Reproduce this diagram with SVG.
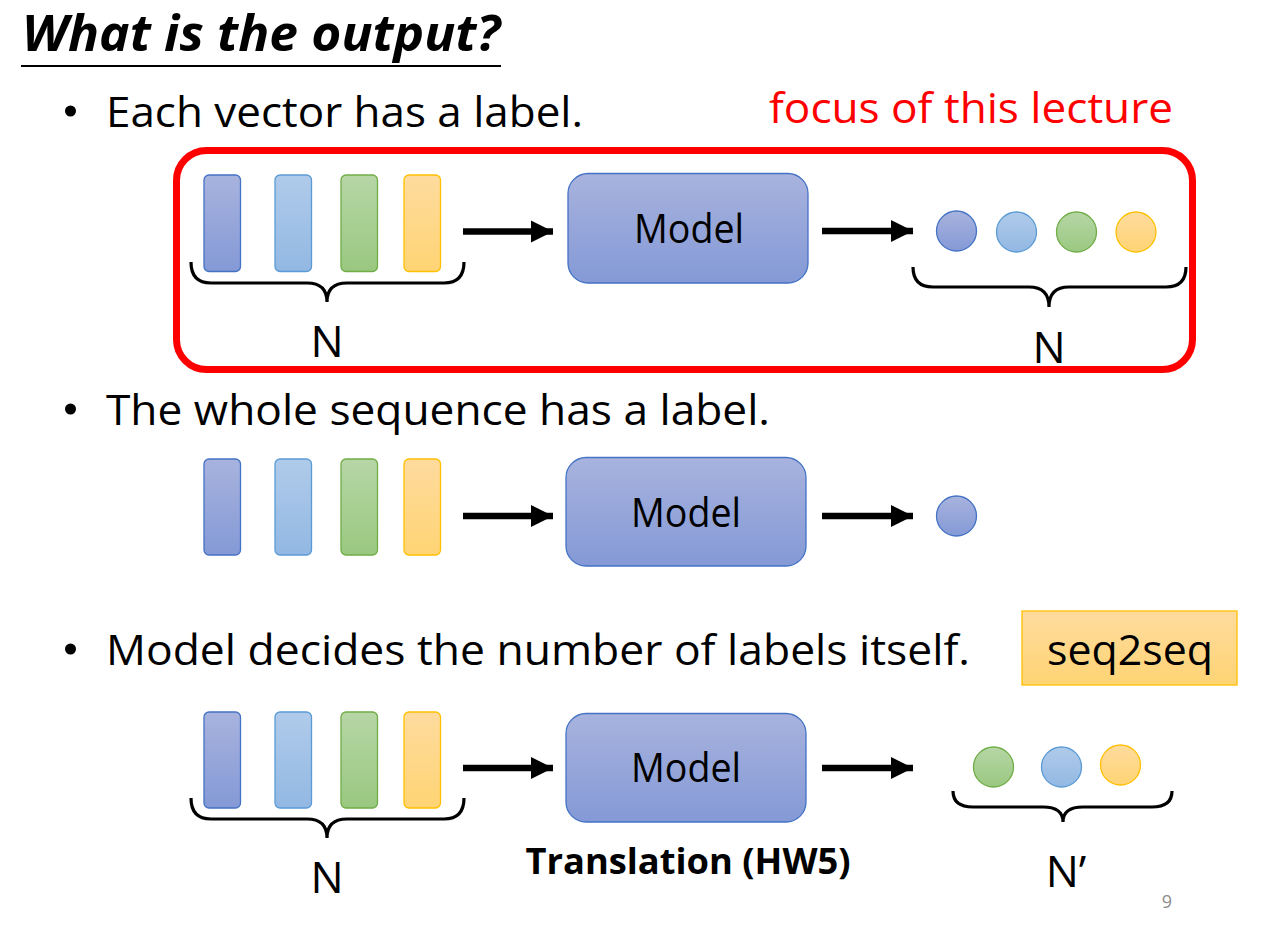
<svg xmlns="http://www.w3.org/2000/svg" width="1262" height="936" viewBox="0 0 1262 936">
<defs>
<linearGradient id="gB" x1="0" y1="0" x2="0" y2="1"><stop offset="0" stop-color="#a8b3de"/><stop offset="1" stop-color="#8499d6"/></linearGradient>
<linearGradient id="gL" x1="0" y1="0" x2="0" y2="1"><stop offset="0" stop-color="#b0cbea"/><stop offset="1" stop-color="#92b8e3"/></linearGradient>
<linearGradient id="gG" x1="0" y1="0" x2="0" y2="1"><stop offset="0" stop-color="#b6d6a6"/><stop offset="1" stop-color="#9ac880"/></linearGradient>
<linearGradient id="gO" x1="0" y1="0" x2="0" y2="1"><stop offset="0" stop-color="#fedb9e"/><stop offset="1" stop-color="#ffd474"/></linearGradient>
<marker id="ah" markerWidth="4" markerHeight="4" refX="3.4" refY="2" orient="auto" markerUnits="strokeWidth"><path d="M0,0.3 L3.4,2 L0,3.7 Z" fill="#000"/></marker>
<style>
text{font-family:"Open Sans","Noto Sans","Liberation Sans",sans-serif;fill:#000}
.b{font-size:42px}
.vB{fill:url(#gB);stroke:#4472c4;stroke-width:1.3}
.vL{fill:url(#gL);stroke:#5b9bd5;stroke-width:1.3}
.vG{fill:url(#gG);stroke:#70ad47;stroke-width:1.3}
.vO{fill:url(#gO);stroke:#ffc000;stroke-width:1.3}
.model{fill:url(#gB);stroke:#4472c4;stroke-width:1.3}
.mt{font-size:40px;text-anchor:middle}
.brace{fill:none;stroke:#000;stroke-width:3.2}
.arr{stroke:#000;stroke-width:6.5;fill:none;marker-end:url(#ah)}
.n{font-size:44px;text-anchor:middle}
</style>
</defs>

<g id="title">
<text x="22" y="51" style="font-size:50px;font-weight:bold;font-style:italic" textLength="478" lengthAdjust="spacingAndGlyphs">What is the output?</text>
<line x1="21" y1="66" x2="501" y2="66" stroke="#000" stroke-width="2"/>
</g>

<g id="bullets">
<circle cx="70.5" cy="111" r="5.5"/>
<text class="b" x="106" y="127" textLength="477" lengthAdjust="spacingAndGlyphs">Each vector has a label.</text>
<circle cx="70.5" cy="409" r="5.5"/>
<text class="b" x="106" y="425" textLength="664" lengthAdjust="spacingAndGlyphs">The whole sequence has a label.</text>
<circle cx="70.5" cy="649" r="5.5"/>
<text class="b" x="106" y="665" textLength="864" lengthAdjust="spacingAndGlyphs">Model decides the number of labels itself.</text>
</g>

<g id="focus">
<text x="769" y="123" style="font-size:42px;fill:#ff0000" textLength="404" lengthAdjust="spacingAndGlyphs">focus of this lecture</text>
<rect x="176.5" y="150.5" width="1016" height="219" rx="30" fill="none" stroke="#ff0000" stroke-width="7"/>
</g>

<g id="row1-inputs">
<rect class="vB" x="204" y="175" width="36.5" height="96.5" rx="5"/>
<rect class="vL" x="275" y="175" width="36.5" height="96.5" rx="5"/>
<rect class="vG" x="341" y="175" width="36.5" height="96.5" rx="5"/>
<rect class="vO" x="404" y="175" width="36.5" height="96.5" rx="5"/>
<path class="brace" d="M191,262 Q191,283 211,283 L307,283 Q327,283 327,302 Q327,283 347,283 L444,283 Q464,283 464,262"/>
<text class="n" x="327" y="357">N</text>
</g>
<g id="row1-model">
<rect class="model" x="568" y="173.5" width="240" height="109.5" rx="20"/>
<text class="mt" x="689" y="243" textLength="110" lengthAdjust="spacingAndGlyphs">Model</text>
</g>
<g id="row1-outputs">
<circle class="vB" cx="956.5" cy="231" r="20"/>
<circle class="vL" cx="1016.5" cy="232" r="20"/>
<circle class="vG" cx="1076.5" cy="232" r="20"/>
<circle class="vO" cx="1136" cy="232" r="20"/>
<path class="brace" d="M913,267 Q913,287 933,287 L1029,287 Q1049,287 1049,307 Q1049,287 1069,287 L1166,287 Q1186,287 1186,267"/>
<text class="n" x="1049" y="363">N</text>
</g>

<g id="row2-inputs">
<rect class="vB" x="204" y="459" width="36.5" height="96" rx="5"/>
<rect class="vL" x="275" y="459" width="36.5" height="96" rx="5"/>
<rect class="vG" x="341" y="459" width="36.5" height="96" rx="5"/>
<rect class="vO" x="404" y="459" width="36.5" height="96" rx="5"/>
</g>
<g id="row2-model">
<rect class="model" x="566" y="457.5" width="240" height="108.5" rx="20"/>
<text class="mt" x="686" y="527" textLength="110" lengthAdjust="spacingAndGlyphs">Model</text>
</g>
<g id="row2-output">
<circle class="vB" cx="956.5" cy="516" r="20"/>
</g>

<g id="seq2seq">
<rect x="1022" y="611" width="215" height="74" fill="url(#gO)" stroke="#ffc000" stroke-width="1.3"/>
<text x="1130" y="665" style="font-size:42px;text-anchor:middle" textLength="166" lengthAdjust="spacingAndGlyphs">seq2seq</text>
</g>

<g id="row3-inputs">
<rect class="vB" x="204" y="712" width="36.5" height="96" rx="5"/>
<rect class="vL" x="275" y="712" width="36.5" height="96" rx="5"/>
<rect class="vG" x="341" y="712" width="36.5" height="96" rx="5"/>
<rect class="vO" x="404" y="712" width="36.5" height="96" rx="5"/>
<path class="brace" d="M191,798 Q191,819 211,819 L307,819 Q327,819 327,838 Q327,819 347,819 L444,819 Q464,819 464,798"/>
<text class="n" x="327" y="893">N</text>
</g>
<g id="row3-model">
<rect class="model" x="566" y="713.5" width="240" height="108.5" rx="20"/>
<text class="mt" x="686" y="782" textLength="110" lengthAdjust="spacingAndGlyphs">Model</text>
<text x="688" y="874" style="font-size:35px;font-weight:bold;text-anchor:middle" textLength="325" lengthAdjust="spacingAndGlyphs">Translation (HW5)</text>
</g>
<g id="row3-outputs">
<circle class="vG" cx="993.5" cy="767" r="20"/>
<circle class="vL" cx="1061.5" cy="767" r="20"/>
<circle class="vO" cx="1120.5" cy="765" r="20"/>
<path class="brace" d="M953,791 Q953,807 973,807 L1043,807 Q1063,807 1063,822 Q1063,807 1083,807 L1152,807 Q1172,807 1172,791"/>
<text class="n" x="1066" y="887">N’</text>
</g>

<g id="connectors">
<line class="arr" x1="463" y1="231.5" x2="553" y2="231.5"/>
<line class="arr" x1="822" y1="231" x2="913" y2="231"/>
<line class="arr" x1="463" y1="516" x2="553" y2="516"/>
<line class="arr" x1="822" y1="516" x2="913" y2="516"/>
<line class="arr" x1="463" y1="768" x2="553" y2="768"/>
<line class="arr" x1="822" y1="768" x2="913" y2="768"/>
</g>

<text x="1167" y="908" style="font-size:18px;fill:#8c8c8c;text-anchor:middle">9</text>
</svg>
